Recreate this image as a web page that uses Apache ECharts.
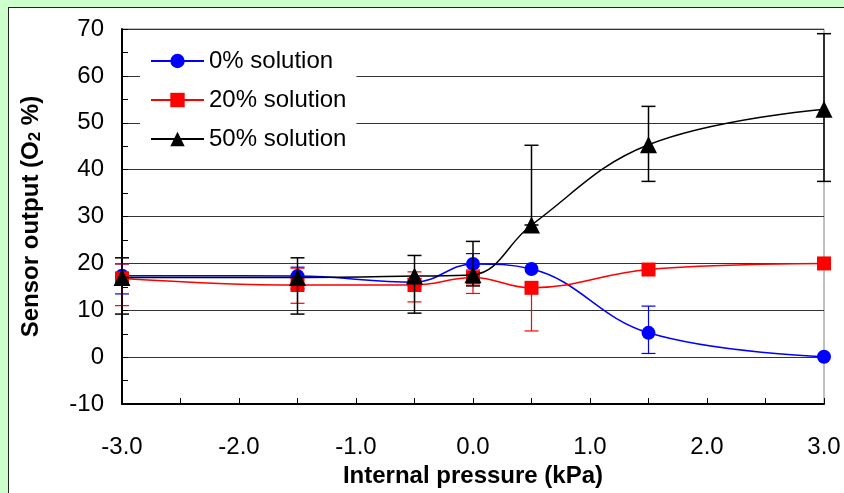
<!DOCTYPE html>
<html>
<head>
<meta charset="utf-8">
<script src="https://cdn.jsdelivr.net/npm/echarts@6/dist/echarts.min.js"></script>
<style>
  html, body { margin: 0; padding: 0; }
  #frame { position: relative; width: 844px; height: 493px; background: #ccffcc; overflow: hidden; }
  #panel { position: absolute; left: 8px; top: 7px; width: 836px; height: 486px; background: #fff;
           border-left: 1px solid #222; border-top: 1px solid #222; }
  #main { position: absolute; left: 0; top: 0; width: 844px; height: 493px; }
</style>
</head>
<body>
<div id="frame">
  <div id="panel"></div>
  <div id="main"></div>
</div>
<script>
// 内部压力 (kPa)
var pressure = [-3, -1.5, -0.5, 0, 0.5, 1.5, 3];

// 0% solution
var sol0 = [17.4, 17.3, 16.0, 19.9, 18.8, 5.2, 0.1];
var sol0Low = [13.5, 14.6, 15.2, 15.8, 18.8, 0.8, 0.1];
var sol0High = [19.9, 19.2, 16.8, 22.1, 18.8, 10.9, 0.1];

// 20% solution
var sol20 = [16.8, 15.4, 15.4, 17.0, 14.8, 18.7, 20.0];
var sol20Low = [11.0, 11.5, 11.8, 13.6, 5.6, 18.7, 20.0];
var sol20High = [19.9, 19.0, 18.2, 18.6, 14.8, 18.7, 20.0];

// 50% solution
var sol50 = [17.0, 17.0, 17.3, 17.6, 28.2, 45.3, 52.9];
var sol50Low = [9.2, 9.2, 9.4, 15.2, 28.2, 37.5, 37.5];
var sol50High = [21.2, 21.2, 21.7, 24.7, 45.2, 53.5, 69.0];

var names = ['0% solution', '20% solution', '50% solution'];
var colors = ['#0000ff', '#ff0000', '#000000'];
var yTicks = [-10, 0, 10, 20, 30, 40, 50, 60, 70];

var font = 'Liberation Sans, Arial, sans-serif';

function pairs(ys) {
    return pressure.map(function (p, i) { return [p, ys[i]]; });
}

// 误差线 (custom series)
function errorBars(name, low, high, color, width, z) {
    return {
        type: 'custom',
        name: name,
        z: z,
        silent: true,
        renderItem: function (params, api) {
            var x = api.value(0), lo = api.value(1), hi = api.value(2);
            if (lo === hi) return;
            var a = api.coord([x, lo]);
            var b = api.coord([x, hi]);
            var hw = 7;
            var style = { stroke: color, lineWidth: width };
            return {
                type: 'group',
                children: [
                    { type: 'line', shape: { x1: a[0], y1: a[1], x2: b[0], y2: b[1] }, style: style },
                    { type: 'line', shape: { x1: a[0] - hw, y1: a[1], x2: a[0] + hw, y2: a[1] }, style: style },
                    { type: 'line', shape: { x1: b[0] - hw, y1: b[1], x2: b[0] + hw, y2: b[1] }, style: style }
                ]
            };
        },
        encode: { x: 0, y: [1, 2] },
        data: pressure.map(function (p, i) { return [p, low[i], high[i]]; })
    };
}

function lineSeries(name, ys, color, symbol, size, z) {
    return {
        type: 'line',
        name: name,
        data: pairs(ys),
        smooth: 0.4,
        symbol: symbol,
        symbolSize: size,
        z: z,
        clip: false,
        lineStyle: { color: color, width: 1.5 },
        itemStyle: { color: color }
    };
}

var myChart = echarts.init(document.getElementById('main'), null, { renderer: 'canvas' });

var option = {
    backgroundColor: 'transparent',
    animation: false,
    textStyle: { fontFamily: font },
    grid: { left: 122, top: 29, right: 20, bottom: 87, show: true, borderColor: '#808080', borderWidth: 1 },
    legend: {
        data: names,
        orient: 'vertical',
        left: 140,
        top: 44,
        padding: [5, 10, 8, 10],
        backgroundColor: '#ffffff',
        itemWidth: 53,
        itemHeight: 18,
        itemGap: 15,
        textStyle: { fontFamily: font, fontSize: 24, color: '#000' }
    },
    xAxis: {
        type: 'value',
        min: -3,
        max: 3,
        interval: 0.5,
        name: 'Internal pressure (kPa)',
        nameLocation: 'middle',
        nameGap: 54,
        nameTextStyle: { fontFamily: font, fontSize: 24, fontWeight: 'bold', color: '#000', verticalAlign: 'top' },
        axisLine: { onZero: false, lineStyle: { color: '#000', width: 2 } },
        axisTick: { inside: true, length: 6, lineStyle: { color: '#000', width: 1 } },
        axisLabel: {
            margin: 31,
            fontFamily: font,
            fontSize: 24,
            color: '#000',
            formatter: function (v) {
                return Math.abs(v % 1) < 1e-9 ? v.toFixed(1) : '';
            }
        },
        splitLine: { show: false }
    },
    yAxis: {
        type: 'value',
        min: yTicks[0],
        max: yTicks[yTicks.length - 1],
        interval: 10,
        name: 'Sensor output (O{s|2} %)',
        nameLocation: 'middle',
        nameGap: 78,
        nameTextStyle: {
            fontFamily: font, fontSize: 24, fontWeight: 'bold', color: '#000',
            rich: { s: { fontFamily: font, fontSize: 17, fontWeight: 'bold', color: '#000', padding: [8, 0, 0, 0] } }
        },
        axisLine: { onZero: false, lineStyle: { color: '#000', width: 2 } },
        axisTick: { inside: true, length: 6, lineStyle: { color: '#000' } },
        minorTick: { show: true, splitNumber: 2, length: 6, lineStyle: { color: '#000', width: 1 } },
        axisLabel: { margin: 18, fontFamily: font, fontSize: 24, color: '#000' },
        splitLine: { show: true, lineStyle: { color: '#333', width: 1 } }
    },
    series: [
        errorBars('0% err', sol0Low, sol0High, colors[0], 1.2, 2),
        lineSeries(names[0], sol0, colors[0], 'circle', 14, 3),
        errorBars('20% err', sol20Low, sol20High, colors[1], 1.2, 4),
        lineSeries(names[1], sol20, colors[1], 'rect', 14, 5),
        errorBars('50% err', sol50Low, sol50High, colors[2], 1.5, 6),
        lineSeries(names[2], sol50, colors[2], 'triangle', 17, 7)
    ]
};

myChart.setOption(option);
</script>
</body>
</html>
